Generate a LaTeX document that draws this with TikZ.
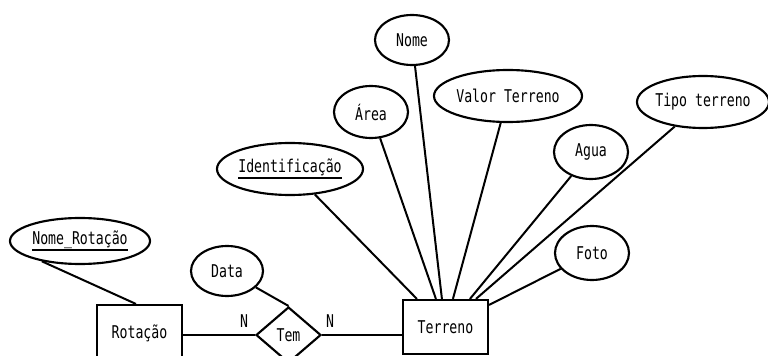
\documentclass[tikz,border=0pt]{standalone}
\usepackage{fontspec}
\newfontfamily\erfont[FakeStretch=0.75]{DejaVu Sans Mono}
\usetikzlibrary{shapes.geometric}
% label centred in a zero-width box, so the ellipse keeps its own size
\newcommand\lbl[1]{\makebox[0pt]{#1}}
% key attribute: text with a rule under it
\newcommand\keyattr[1]{\setbox0\hbox{#1}\makebox[0pt]{\rlap{\rule[-5pt]{\wd0}{1.4pt}}\box0}}
\begin{document}
\begin{tikzpicture}[x=0.75pt, y=-0.75pt,
  font=\erfont\fontsize{13.2}{15}\selectfont,
  attr/.style={draw, ellipse, line width=1.6pt, inner sep=0pt},
  entity/.style={draw, rectangle, line width=1.6pt, inner sep=0pt, minimum width=63.75pt},
  rel/.style={draw, diamond, line width=1.6pt, inner sep=0pt, minimum width=48.75pt, minimum height=42pt},
  link/.style={line width=1.5pt},
  card/.style={inner sep=0pt}]
\useasboundingbox (0,0) rectangle (768,356);
\clip (0,0) rectangle (768,356);

% entities and relationship
\node[entity, minimum height=42pt] (rot) at (139.5,333) {Rotação};
\node[entity, minimum height=40.5pt] (ter) at (445.5,327) {Terreno};
\node[rel] (tem) at (288.5,335) {Tem};

% attributes
\node[attr, minimum width=55.5pt, minimum height=37.5pt] (nome) at (412,40) {\lbl{Nome}};
\node[attr, minimum width=111pt, minimum height=39pt] (valor) at (508,96) {\lbl{Valor Terreno}};
\node[attr, minimum width=55.5pt, minimum height=39pt] (area) at (371,112) {\lbl{Área}};
\node[attr, minimum width=109.5pt, minimum height=39pt] (ident) at (290,169) {\keyattr{Identificação}};
\node[attr, minimum width=55.5pt, minimum height=40.5pt] (agua) at (591,152) {\lbl{Agua}};
\node[attr, minimum width=99pt, minimum height=39pt] (tipo) at (703,102) {\lbl{Tipo terreno}};
\node[attr, minimum width=55.5pt, minimum height=40.5pt] (foto) at (592,253) {\lbl{Foto}};
\node[attr, minimum width=54pt, minimum height=37.5pt] (data) at (227,271) {\lbl{Data}};
\node[attr, minimum width=105pt, minimum height=34.5pt] (nomerot) at (80,241) {\keyattr{Nome\_Rotação}};

% cardinalities
\node[card] (n1) at (244,321) {N};
\node[card] (n2) at (330,321) {N};

% attachment points on the entity borders
\coordinate (rA) at ([xshift=30pt]rot.north west);
\coordinate (tA) at ([xshift=11.25pt]ter.north west);
\coordinate (tB) at ([xshift=25.5pt]ter.north west);
\coordinate (tC) at ([xshift=30pt]ter.north west);
\coordinate (tD) at ([xshift=38.25pt]ter.north west);
\coordinate (tE) at ([xshift=51pt]ter.north west);
\coordinate (tF) at ([xshift=55.5pt]ter.north west);
\coordinate (tG) at ([yshift=-4.5pt]ter.north east);

% connectors
\draw[link] (rot.east |- tem.west) -- (tem.west);
\draw[link] (tem.east) -- (tem.east -| ter.west);
\draw[link] (data) -- (tem.north);
\draw[link] (nomerot.208) -- (rA);
\draw[link] (ident) -- (tA);
\draw[link] (area) -- (tB);
\draw[link] (nome) -- (tC);
\draw[link] (valor) -- (tD);
\draw[link] (agua) -- (tE);
\draw[link] (tipo) -- (tF);
\draw[link] (foto) -- (tG);
\end{tikzpicture}
\end{document}
